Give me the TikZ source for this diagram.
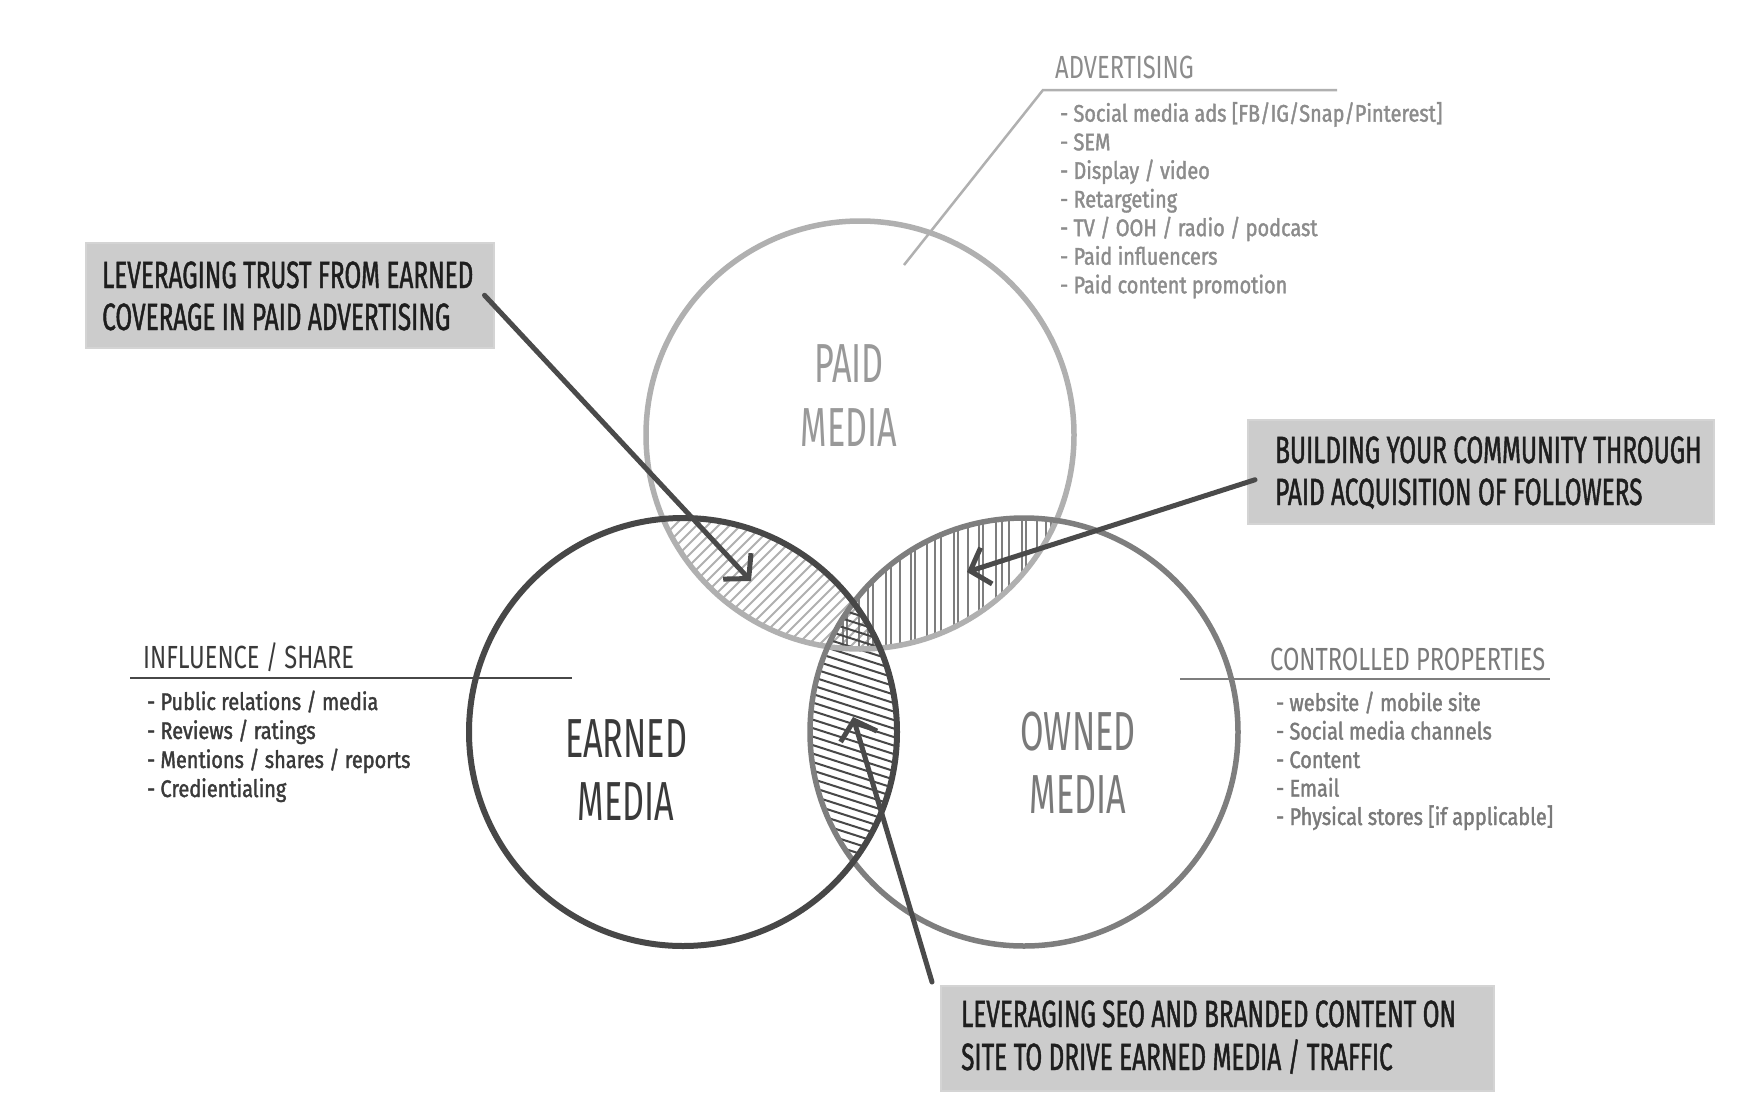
\documentclass[tikz,border=0pt]{standalone}
\usepackage{fontspec}
\newfontfamily\capsfont[FakeStretch=0.62]{Fira Sans}
\newfontfamily\boxfont[FakeStretch=0.64,FakeBold=1.2]{Fira Sans}
\newfontfamily\headfont[FakeStretch=0.74]{Fira Sans}
\newfontfamily\itemfont[FakeStretch=0.83,FakeBold=1.6]{Fira Sans}
\usetikzlibrary{arrows.meta}
\definecolor{paidc}{HTML}{B0B0B0}
\definecolor{paidtxt}{HTML}{999999}
\definecolor{advtxt}{HTML}{8C8C8C}
\definecolor{earnc}{HTML}{474747}
\definecolor{earntxt}{HTML}{3A3A3A}
\definecolor{ownc}{HTML}{7E7E7E}
\definecolor{owntxt}{HTML}{7A7A7A}
\definecolor{boxfill}{HTML}{CCCCCC}
\definecolor{boxtxt}{HTML}{1E1E1E}
\definecolor{arrc}{HTML}{4A4A4A}
\tikzset{
  ring/.style={circle, minimum size=428pt, inner sep=0pt},
  bigtxt/.style={font=\capsfont\fontsize{55}{63}\selectfont, anchor=base, inner sep=0pt},
  headtxt/.style={font=\headfont\fontsize{32}{36}\selectfont, anchor=base west, inner sep=0pt},
  itemtxt/.style={font=\itemfont\fontsize{24}{28}\selectfont, anchor=base west, inner sep=0pt},
  boxtext/.style={font=\boxfont\fontsize{38}{42}\selectfont, text=boxtxt, anchor=base west, inner sep=0pt},
  notebox/.style={fill=boxfill, draw=boxfill!85!white, line width=1.5pt, anchor=north west, inner sep=0pt},
  hatch/.style={line width=2pt},
  arr/.style={draw=arrc, line width=5pt, line cap=round, -{Straight Barb[length=17pt,width=38pt]}},
  leader/.style={line width=2.5pt}
}
\begin{document}
\begin{tikzpicture}[x=1pt,y=-1pt]
\fill[white] (0,0) rectangle (1760,1116);
\useasboundingbox (0,0) rectangle (1760,1116);

% hatching: paid & earned
\begin{scope}
  \clip (860,435) circle[radius=214pt];
  \clip (683,732) circle[radius=214pt];
  \foreach \k in {0,...,45} \draw[hatch, paidc] ({400+11*\k},800) -- ++(400,-400);
\end{scope}
% hatching: paid & owned
\begin{scope}
  \clip (860,435) circle[radius=214pt];
  \clip (1024,732) circle[radius=214pt];
  \foreach \k in {0,...,40} \draw[hatch, ownc] ({790+8.5*\k+2.5*sin(137*\k)},480) -- ++(0,220);
\end{scope}
% hatching: earned & owned
\begin{scope}
  \clip (683,732) circle[radius=214pt];
  \clip (1024,732) circle[radius=214pt];
  \foreach \k in {0,...,60} \draw[hatch, earnc] (700,{420+8.5*\k}) -- ++(300,96);
\end{scope}

% circles
\node[ring, draw=paidc, line width=5.5pt] (paid) at (860,435) {};
\node[ring, draw=ownc, line width=5.5pt] (owned) at (1024,732) {};
\node[ring, draw=earnc, line width=6pt] (earned) at (683,732) {};

% circle labels
\node[bigtxt, text=paidtxt] (paidA) at (849,382) {PAID};
\node[bigtxt, text=paidtxt] (paidB) at (849,446) {MEDIA};
\node[bigtxt, text=earntxt] (earnA) at (626,757) {EARNED};
\node[bigtxt, text=earntxt] (earnB) at (626,820) {MEDIA};
\node[bigtxt, text=owntxt] (ownA) at (1078,750) {OWNED};
\node[bigtxt, text=owntxt] (ownB) at (1078,813) {MEDIA};

% advertising
\coordinate (advtip) at (904,265);
\coordinate (advbend) at (1043,90);
\coordinate (advend) at (1337,90);
\draw[leader, draw=paidc] (advtip) -- (advbend) -- (advend);
\node[headtxt, text=advtxt] (advhead) at (1055,78) {ADVERTISING};
\foreach \t [count=\i from 0] in {{- Social media ads [FB/IG/Snap/Pinterest]},{- SEM},{- Display / video},{- Retargeting},{- TV / OOH / radio / podcast},{- Paid influencers},{- Paid content promotion}}
  \node[itemtxt, text=advtxt] (adv\i) at (1060,{121.7+28.6*\i}) {\t};

% influence
\coordinate (infA) at (130,678);
\coordinate (infB) at (572,678);
\draw[leader, draw=earnc] (infA) -- (infB);
\node[headtxt, text=earntxt] (infhead) at (143,668) {INFLUENCE / SHARE};
\foreach \t [count=\i from 0] in {{- Public relations / media},{- Reviews / ratings},{- Mentions / shares / reports},{- Credientialing}}
  \node[itemtxt, text=earntxt] (inf\i) at (147,{710+29*\i}) {\t};

% controlled
\coordinate (conA) at (1180,679);
\coordinate (conB) at (1550,679);
\draw[leader, draw=ownc] (conA) -- (conB);
\node[headtxt, text=owntxt] (conhead) at (1270,670) {CONTROLLED PROPERTIES};
\foreach \t [count=\i from 0] in {{- website / mobile site},{- Social media channels},{- Content},{- Email},{- Physical stores [if applicable]}}
  \node[itemtxt, text=owntxt] (con\i) at (1276,{711+28.5*\i}) {\t};

% boxes
\node[notebox, minimum width=408pt, minimum height=105pt] (box1) at (85,242) {};
\node[boxtext] (box1a) at (102,288) {LEVERAGING TRUST FROM EARNED};
\node[boxtext] (box1b) at (102,330) {COVERAGE IN PAID ADVERTISING};

\node[notebox, minimum width=466pt, minimum height=104pt] (box2) at (1247,419) {};
\node[boxtext] (box2a) at (1275,463) {BUILDING YOUR COMMUNITY THROUGH};
\node[boxtext] (box2b) at (1275,505) {PAID ACQUISITION OF FOLLOWERS};

\node[notebox, minimum width=553pt, minimum height=105pt] (box3) at (940,985) {};
\node[boxtext] (box3a) at (961,1027) {LEVERAGING SEO AND BRANDED CONTENT ON};
\node[boxtext] (box3b) at (961,1070) {SITE TO DRIVE EARNED MEDIA / TRAFFIC};

% arrows
\coordinate (tip1) at (751,581);
\coordinate (tip2) at (967,572);
\coordinate (tip3) at (853,717);
\draw[arr] ([xshift=-10pt]box1.east) -- (tip1);
\draw[arr] ([xshift=8pt,yshift=-8pt]box2.west) -- (tip2);
\draw[arr] ([xshift=-8pt,yshift=3pt]box3.north west) -- (tip3);
\end{tikzpicture}
\end{document}
